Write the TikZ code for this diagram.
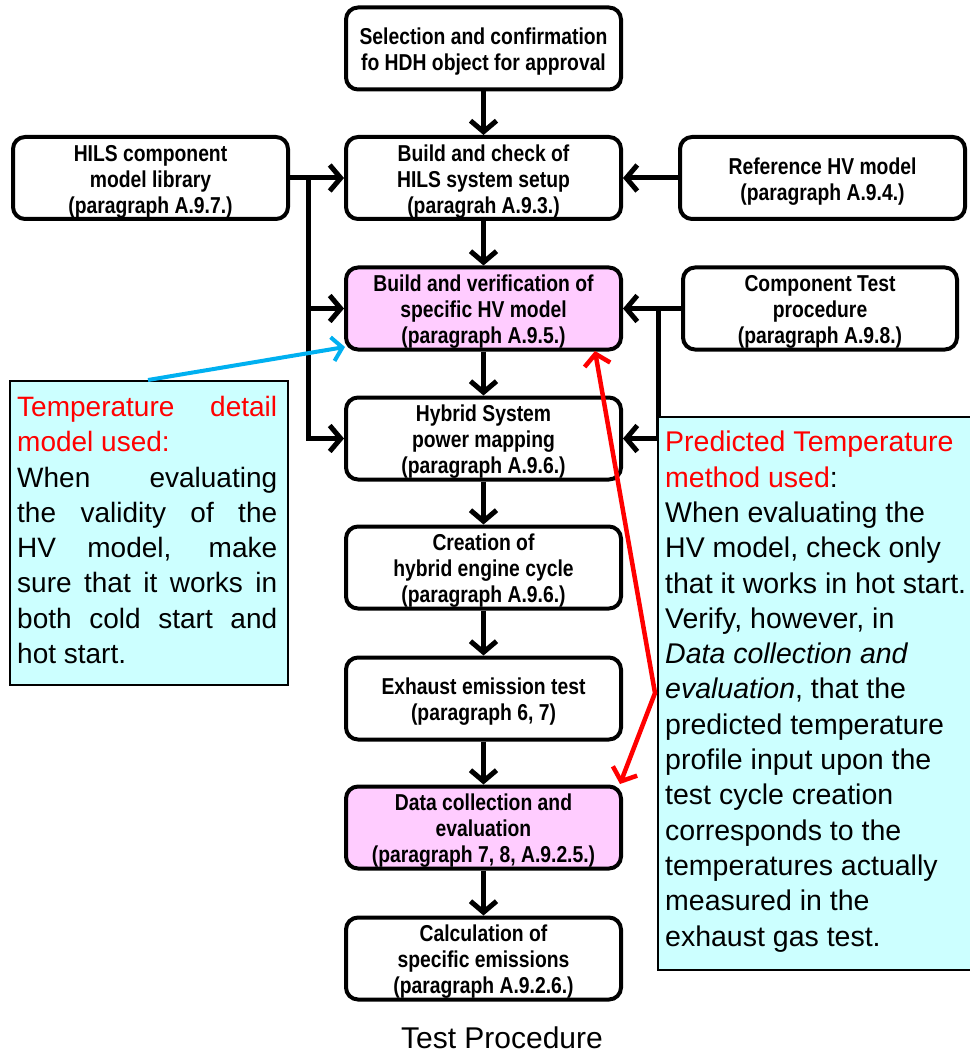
\documentclass[tikz,border=0pt]{standalone}
\usepackage{fontspec}
\setmainfont{Liberation Sans}
\newfontfamily\boxfont{Liberation Sans}[FakeStretch=0.84]
\usetikzlibrary{arrows.meta,calc}
\definecolor{pinkfill}{HTML}{FFCCFF}
\definecolor{cyanfill}{HTML}{CCFFFF}
\definecolor{bluearrow}{HTML}{00B0F0}
\definecolor{redarrow}{HTML}{FF0000}
\newcommand{\boxlines}[1]{\raisebox{-4pt}[\height][\depth]{\begin{tabular}{@{}c@{}}#1\end{tabular}}}
\begin{document}
\begin{tikzpicture}[x=1pt,y=-1pt,
  stepbox/.style={draw, line width=4pt, rounded corners=12pt, fill=white,
    minimum width=275pt, minimum height=82pt, inner sep=0pt,
    font=\boxfont\bfseries\fontsize{23}{26}\selectfont},
  hlbox/.style={stepbox, fill=pinkfill},
  flow/.style={line width=5pt, -{Straight Barb[length=11pt,width=26pt]}},
  note/.style={draw, line width=2pt, fill=cyanfill, inner sep=0pt},
  notetext/.style={anchor=north west, inner sep=0pt, align=left},
]
\useasboundingbox (0,0) rectangle (969,1056);

% main chain
\node[stepbox] (s1) at (483.5,48.5) {\boxlines{Selection and confirmation\\fo HDH object for approval}};
\node[stepbox] (s2) at (483.5,178) {\boxlines{Build and check of\\HILS system setup\\(paragrah A.9.3.)}};
\node[hlbox]   (s3) at (483.5,308.5) {\boxlines{Build and verification of\\specific HV model\\(paragraph A.9.5.)}};
\node[stepbox] (s4) at (483.5,438.5) {\boxlines{Hybrid System\\power mapping\\(paragraph A.9.6.)}};
\node[stepbox] (s5) at (483.5,567.5) {\boxlines{Creation of\\hybrid engine cycle\\(paragraph A.9.6.)}};
\node[stepbox] (s6) at (483.5,698.5) {\boxlines{Exhaust emission test\\(paragraph 6, 7)}};
\node[hlbox]   (s7) at (483.5,827.5) {\boxlines{Data collection and\\evaluation\\(paragraph 7, 8, A.9.2.5.)}};
\node[stepbox] (s8) at (483.5,958.5) {\boxlines{Calculation of\\specific emissions\\(paragraph A.9.2.6.)}};

% side inputs
\node[stepbox] (hils) at (150.5,178) {\boxlines{HILS component\\model library\\(paragraph A.9.7.)}};
\node[stepbox, minimum width=285pt] (ref) at (822.5,178) {\boxlines{Reference HV model\\(paragraph A.9.4.)}};
\node[stepbox, minimum width=274pt] (comp) at (820,308.5) {\boxlines{Component Test\\procedure\\(paragraph A.9.8.)}};

% chain arrows
\foreach \a/\b in {s1/s2,s2/s3,s3/s4,s4/s5,s5/s6,s6/s7,s7/s8}
  \draw[flow] (\a.south) -- (\b.north);

% left inputs
\draw[flow] (hils.east) -- (s2.west);
\coordinate (jl) at (308,178);
\draw[flow] (jl) |- (s3.west);
\draw[flow] (jl) |- (s4.west);

% right inputs
\draw[flow] (ref.west) -- (s2.east);
\draw[flow] (comp.west) -- (s3.east);
\coordinate (jr) at (658,308.5);
\draw[flow] (jr) |- (s4.east);

% notes
\node[note, anchor=north west, minimum width=278pt, minimum height=304pt] (lnote) at (9,380) {};
\node[notetext, font=\fontsize{28}{35.3}\selectfont] (ltext) at (17,396) {%
\makebox[260pt][s]{\color{redarrow}Temperature detail}\\
\textcolor{redarrow}{model used:}\\
\makebox[260pt][s]{When evaluating}\\
\makebox[260pt][s]{the validity of the}\\
\makebox[260pt][s]{HV model, make}\\
\makebox[260pt][s]{sure that it works in}\\
\makebox[260pt][s]{both cold start and}\\
hot start.};

\node[note, anchor=north west, minimum width=353pt, minimum height=553pt] (rnote) at (657,416) {};
\node[notetext, font=\fontsize{28.5}{35.3}\selectfont] (rtext) at (665,431) {%
\textcolor{redarrow}{Predicted Temperature}\\
\textcolor{redarrow}{method used}:\\
When evaluating the\\
HV model, check only\\
that it works in hot start.\\
Verify, however, in\\
\textit{Data collection and}\\
\textit{evaluation}, that the\\
predicted temperature\\
profile input upon the\\
test cycle creation\\
corresponds to the\\
temperatures actually\\
measured in the\\
exhaust gas test.};

% blue pointer
\coordinate (bstart) at (148,380);
\coordinate (btip) at (345,347);
\draw[bluearrow, line width=4pt, -{Straight Barb[length=10pt,width=24pt]}] (bstart) -- (btip);

% red double arrow
\coordinate (rA) at (595,351);
\coordinate (rB) at (655,693);
\coordinate (rC) at (620,784);
\draw[redarrow, line width=4.5pt, {Straight Barb[length=11pt,width=26pt]}-{Straight Barb[length=11pt,width=26pt]}] (rA) -- (rB) -- (rC);

% caption
\node[font=\fontsize{30}{36}\selectfont] (cap) at (502,1038) {Test Procedure};
\end{tikzpicture}
\end{document}
